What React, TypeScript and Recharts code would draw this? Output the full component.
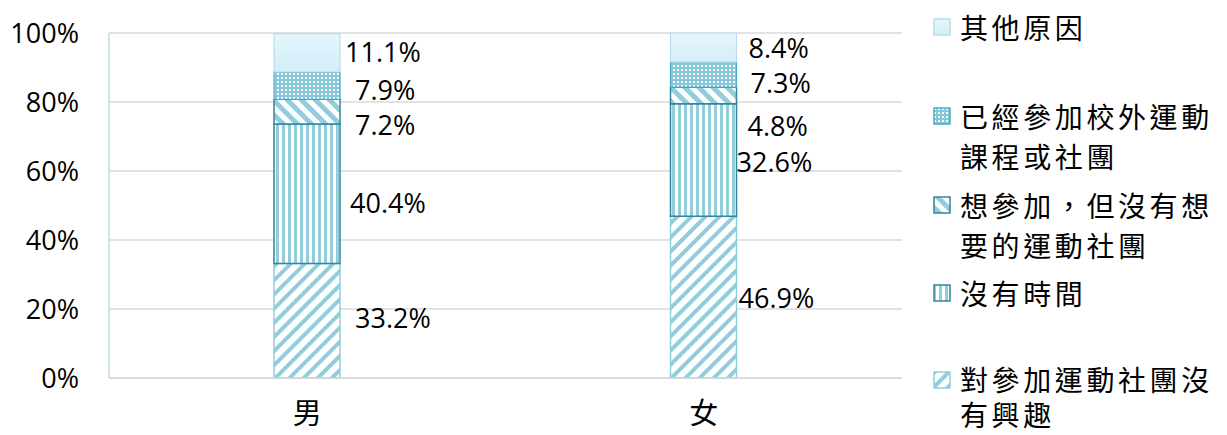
import React from "react";
import { BarChart, Bar, XAxis, YAxis, CartesianGrid, LabelList } from "recharts";

// Reasons for not joining a sports club, split by gender (percent of respondents).
const categories = ["男", "女"];
const seriesNames = [
  "對參加運動社團沒有興趣",
  "沒有時間",
  "想參加，但沒有想要的運動社團",
  "已經參加校外運動課程或社團",
  "其他原因",
];
const noInterest = [33.2, 46.9];
const noTime = [40.4, 32.6];
const noSuitableClub = [7.2, 4.8];
const alreadyOutside = [7.9, 7.3];
const otherReason = [11.1, 8.4];
const yTicks = [0, 20, 40, 60, 80, 100];

const seriesValues = [noInterest, noTime, noSuitableClub, alreadyOutside, otherReason];
const data = categories.map((name, i) => {
  const row: Record<string, string | number> = { name };
  seriesValues.forEach((vals, s) => (row[`s${s}`] = vals[i]));
  return row;
});

// fill pattern + outline for each series (bottom to top)
const fills = ["url(#patInterest)", "url(#patTime)", "url(#patNoClub)", "url(#patDots)", "url(#gradOther)"];
const strokes = ["#92CDDC", "#31859C", "#31859C", "#4BACC6", "#B7DEE8"];
const strokeWidths = [1.5, 1.5, 1.5, 1.2, 1.2];

// data labels were hand-dragged in the original, so keep the nudges: [series][category] = [dx, dy]
const labelNudge = [
  [[15, -3], [2, 0]],
  [[10, 9], [0, 2]],
  [[15, 13], [11, 30]],
  [[15, 4], [14, 8]],
  [[5, -1], [12, 0]],
];

const NUM_FONT = "'Open Sans', 'Liberation Sans', sans-serif";
const CJK_FONT = "'Noto Sans CJK TC', 'Noto Sans CJK SC', sans-serif";

const makeLabel = (s: number) => (props: any) => {
  const { x, y, width, height, value, index } = props;
  const [dx, dy] = labelNudge[s][index] || [0, 0];
  return (
    <text
      x={Number(x) + Number(width) + dx}
      y={Number(y) + Number(height) / 2 + dy}
      dominantBaseline="central"
      fontSize={27}
      fontFamily={NUM_FONT}
      fill="#000"
    >
      {`${Number(value).toFixed(1)}%`}
    </text>
  );
};

function Swatch({ s, top }: { s: number; top: number }) {
  return (
    <svg width={18} height={18} style={{ flexShrink: 0, marginTop: top, marginRight: 9 }}>
      <rect x={1} y={1} width={16} height={16} fill={fills[s]} stroke={strokes[s]} strokeWidth={1.5} />
    </svg>
  );
}

export default function App() {
  const order = seriesNames.map((_, i) => i).reverse();
  return (
    <div style={{ position: "fixed", left: 0, top: 0, width: 1227, height: 435, background: "#fff" }}>
      <BarChart
        width={1227}
        height={435}
        data={data}
        margin={{ top: 33, right: 325, bottom: 0, left: 0 }}
        barSize={66}
      >
        <defs>
          <pattern id="patInterest" patternUnits="userSpaceOnUse" width={10} height={10} patternTransform="rotate(45)">
            <rect width={10} height={10} fill="#fff" />
            <rect width={4} height={10} fill="#92CDDC" />
          </pattern>
          <pattern id="patTime" patternUnits="userSpaceOnUse" width={6} height={6}>
            <rect width={6} height={6} fill="#fff" />
            <rect width={3} height={6} fill="#92CDDC" />
          </pattern>
          <pattern id="patNoClub" patternUnits="userSpaceOnUse" width={10} height={10} patternTransform="rotate(-45)">
            <rect width={10} height={10} fill="#fff" />
            <rect width={5} height={10} fill="#92CDDC" />
          </pattern>
          <pattern id="patDots" patternUnits="userSpaceOnUse" width={4} height={4}>
            <rect width={4} height={4} fill="#86C7DA" />
            <rect x={1} y={1} width={2} height={2} fill="#fff" />
          </pattern>
          <linearGradient id="gradOther" x1="0" y1="0" x2="0" y2="1">
            <stop offset="0%" stopColor="#E6F6FD" />
            <stop offset="100%" stopColor="#D2EEF9" />
          </linearGradient>
        </defs>
        <CartesianGrid vertical={false} stroke="#D9D9D9" strokeWidth={1.3} />
        <XAxis
          dataKey="name"
          height={57}
          axisLine={{ stroke: "#D9D9D9", strokeWidth: 1.3 }}
          tickLine={false}
          tickSize={0}
          tickMargin={25}
          tick={{ fontSize: 29, fontFamily: CJK_FONT, fill: "#000" }}
        />
        <YAxis
          width={109}
          domain={[0, 100]}
          ticks={yTicks}
          tickFormatter={(v) => `${v}%`}
          axisLine={{ stroke: "#B9D6E0", strokeWidth: 1.3 }}
          tickLine={false}
          tickSize={0}
          tickMargin={30}
          tick={{ fontSize: 27, fontFamily: NUM_FONT, fill: "#000" }}
        />
        {seriesNames.map((name, s) => (
          <Bar
            key={name}
            dataKey={`s${s}`}
            name={name}
            stackId="a"
            fill={fills[s]}
            stroke={strokes[s]}
            strokeWidth={strokeWidths[s]}
            isAnimationActive={false}
          >
            <LabelList dataKey={`s${s}`} content={makeLabel(s)} />
          </Bar>
        ))}
      </BarChart>
      <div
        style={{
          position: "absolute",
          left: 933,
          top: 7,
          width: 292,
          fontFamily: CJK_FONT,
          fontSize: 28,
          letterSpacing: 3.6,
          color: "#000",
        }}
      >
        {order.map((s, k) => {
          // the bottom entry sits against the picture edge, so its lines are a bit tighter
          const lh = k === order.length - 1 ? 35 : 40;
          return (
            <div key={s} style={{ display: "flex", alignItems: "flex-start", height: k === order.length - 1 ? 72 : 88.75 }}>
              <Swatch s={s} top={(lh - 18) / 2} />
              <div style={{ width: 262, lineHeight: `${lh}px` }}>{seriesNames[s]}</div>
            </div>
          );
        })}
      </div>
    </div>
  );
}
